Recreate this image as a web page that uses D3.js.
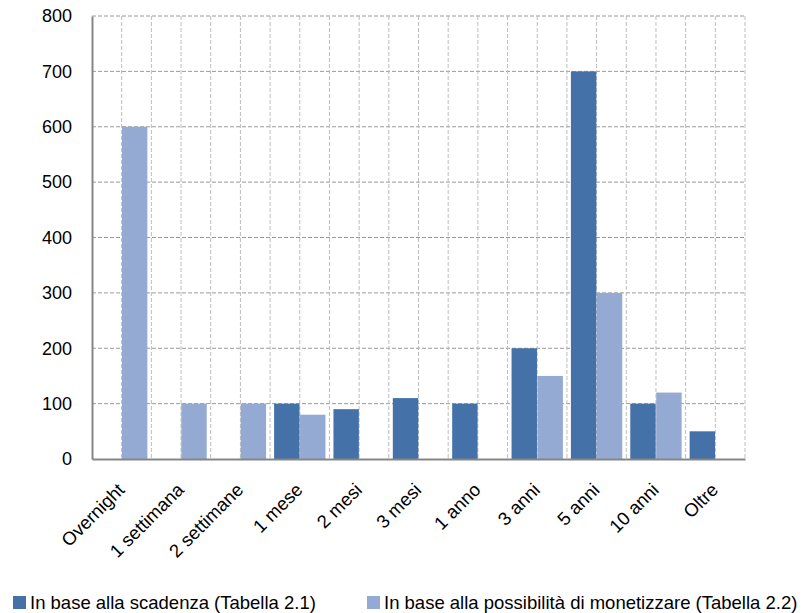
<!DOCTYPE html>
<html>
<head>
<meta charset="utf-8">
<script src="https://cdn.jsdelivr.net/npm/d3@7"></script>
<style>
    body { margin: 0; background: #fff; }
    svg text { font-family: "Liberation Sans", Arial, sans-serif; fill: #000; }
</style>
</head>
<body>
<div id="chart"></div>
<script>
'use strict';

// Categories (x axis) and the two series.
var categories = ['Overnight', '1 settimana', '2 settimane', '1 mese', '2 mesi', '3 mesi',
                  '1 anno', '3 anni', '5 anni', '10 anni', 'Oltre'];
var scadenza   = [0, 0, 0, 100, 90, 110, 100, 200, 700, 100, 50];
var monetizzare = [600, 100, 100, 80, 0, 0, 0, 150, 300, 120, 0];
var seriesNames = ['In base alla scadenza (Tabella 2.1)',
                   'In base alla possibilità di monetizzare (Tabella 2.2)'];
var seriesColors = ['#4472a8', '#95aad2'];
var yTicks = [0, 100, 200, 300, 400, 500, 600, 700, 800];

var width  = 805,
    height = 613,
    margin = {top: 16, right: 60, bottom: 154, left: 92},
    plotW  = width - margin.left - margin.right,
    plotH  = height - margin.top - margin.bottom;

var svg = d3.select('#chart').append('svg')
    .attr('width', width)
    .attr('height', height);

var vis = svg.append('g')
    .attr('transform', 'translate(' + margin.left + ',' + margin.top + ')');

var x = d3.scaleBand()
    .domain(categories)
    .range([0, plotW]);

var xInner = d3.scaleBand()
    .domain([0, 1])
    .range([4, x.bandwidth() - 4])
    .paddingInner(0.02);

var y = d3.scaleLinear()
    .domain([0, 800])
    .range([plotH, 0]);

// Horizontal grid lines.
vis.append('g')
    .selectAll('line')
    .data(yTicks.slice(1))
    .enter().append('line')
    .attr('x1', 0)
    .attr('x2', plotW)
    .attr('y1', function (d) { return y(d); })
    .attr('y2', function (d) { return y(d); })
    .attr('stroke', '#9a9a9a')
    .attr('stroke-width', 1)
    .attr('stroke-dasharray', '4,2');

// Vertical grid lines at category boundaries and centres.
var vLines = [];
categories.forEach(function (c) {
    vLines.push(x(c) + x.bandwidth() / 2);
    vLines.push(x(c) + x.bandwidth());
});

vis.append('g')
    .selectAll('line')
    .data(vLines)
    .enter().append('line')
    .attr('x1', function (d) { return d; })
    .attr('x2', function (d) { return d; })
    .attr('y1', 0)
    .attr('y2', plotH)
    .attr('stroke', '#bdbdbd')
    .attr('stroke-width', 1)
    .attr('stroke-dasharray', '4,2');

// Bars.
var rows = categories.map(function (c, i) {
    return {cat: c, values: [scadenza[i], monetizzare[i]]};
});

vis.append('g')
    .selectAll('g')
    .data(rows)
    .enter().append('g')
    .attr('transform', function (d) { return 'translate(' + x(d.cat) + ',0)'; })
    .selectAll('rect')
    .data(function (d) { return d.values; })
    .enter().append('rect')
    .attr('x', function (d, i) { return xInner(i); })
    .attr('width', xInner.bandwidth())
    .attr('y', function (d) { return y(d); })
    .attr('height', function (d) { return plotH - y(d); })
    .style('fill', function (d, i) { return seriesColors[i]; });

// Axes.
var yAxis = vis.append('g')
    .call(d3.axisLeft(y).tickValues(yTicks).tickSize(0).tickPadding(20));
yAxis.select('.domain').attr('stroke', '#868686').attr('stroke-width', 2);
yAxis.selectAll('text')
    .style('font-size', '18px')
    .style('font-family', '"Liberation Sans", Arial, sans-serif');

var xAxis = vis.append('g')
    .attr('transform', 'translate(0,' + plotH + ')')
    .call(d3.axisBottom(x).tickSize(0).tickPadding(0));
xAxis.select('.domain').attr('stroke', '#868686').attr('stroke-width', 2);
xAxis.selectAll('text')
    .attr('text-anchor', 'end')
    .attr('x', 0)
    .attr('y', 0)
    .attr('dy', 0)
    .attr('transform', 'translate(4,32) rotate(-45)')
    .style('font-size', '18.5px')
    .style('font-family', '"Liberation Sans", Arial, sans-serif');

// Legend.
var legendX = [13, 367];
var legend = svg.append('g')
    .selectAll('g')
    .data(seriesNames)
    .enter().append('g')
    .attr('transform', function (d, i) { return 'translate(' + legendX[i] + ',596)'; });

legend.append('rect')
    .attr('width', 13)
    .attr('height', 13)
    .style('fill', function (d, i) { return seriesColors[i]; });

legend.append('text')
    .attr('x', 17)
    .attr('y', 12.5)
    .style('font-size', '18.5px')
    .text(function (d) { return d; });
</script>
</body>
</html>
